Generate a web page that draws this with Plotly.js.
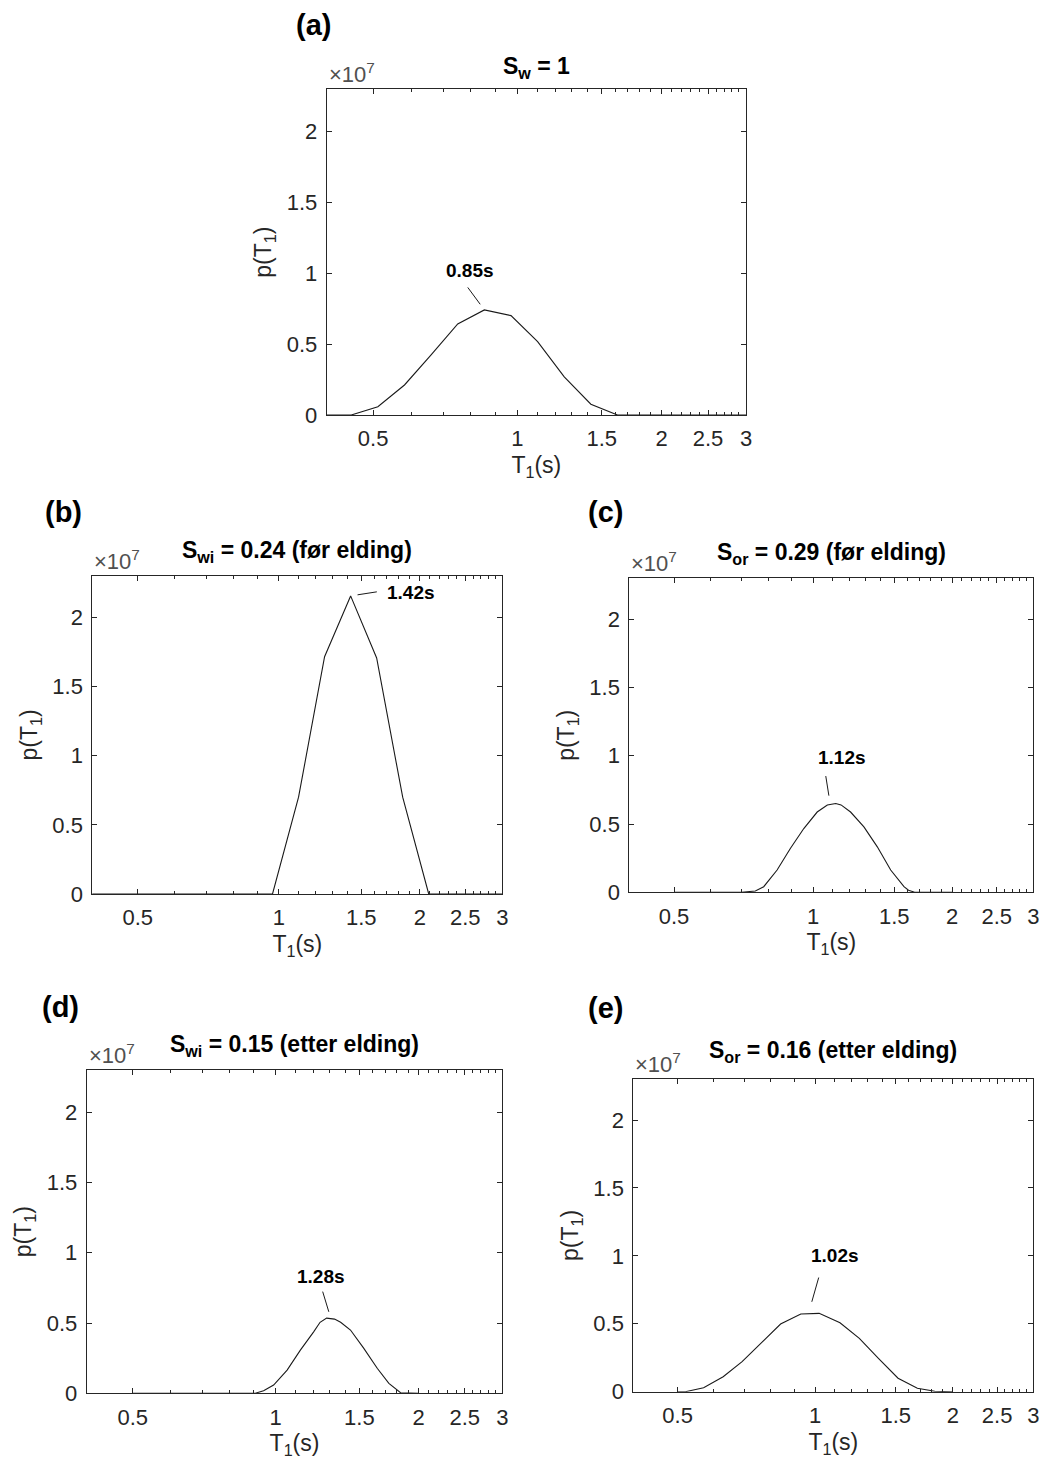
<!DOCTYPE html>
<html>
<head>
<meta charset="utf-8">
<script src="https://cdn.plot.ly/plotly-3.0.1.min.js"></script>
<style>html,body{margin:0;padding:0;background:#fff}#chart{width:1042px;height:1464px}</style>
</head>
<body>
<div id="chart"></div>
<script>
// ---- data ----
const T1_ab = [0.396, 0.4501, 0.5115, 0.5813, 0.6606, 0.7508, 0.8533, 0.9698, 1.1022, 1.2526, 1.4236, 1.6179, 1.8388, 2.0897, 2.3750, 2.6992, 3.0676];
const p_a = [0, 0, 0.059e7, 0.212e7, 0.424e7, 0.643e7, 0.742e7, 0.702e7, 0.518e7, 0.270e7, 0.076e7, 0, 0, 0, 0, 0, 0];
const p_b = [0, 0, 0, 0, 0, 0, 0, 0, 0.70e7, 1.716e7, 2.156e7, 1.707e7, 0.70e7, 0, 0, 0, 0];

const T1_c = [0.5, 0.70, 0.75, 0.782, 0.836, 0.893, 0.955, 1.021, 1.074, 1.12, 1.15, 1.206, 1.289, 1.378, 1.473, 1.574, 1.61, 1.66, 2.0];
const p_c  = [0, 0, 0.010e7, 0.041e7, 0.163e7, 0.321e7, 0.467e7, 0.588e7, 0.640e7, 0.650e7, 0.640e7, 0.588e7, 0.479e7, 0.333e7, 0.163e7, 0.041e7, 0.015e7, 0, 0];

const T1_d = [0.5, 0.906, 0.943, 0.990, 1.057, 1.127, 1.202, 1.24, 1.28, 1.33, 1.37, 1.437, 1.533, 1.636, 1.731, 1.80, 1.832, 2.0];
const p_d  = [0, 0, 0.018e7, 0.059e7, 0.165e7, 0.307e7, 0.437e7, 0.505e7, 0.535e7, 0.528e7, 0.505e7, 0.450e7, 0.320e7, 0.178e7, 0.071e7, 0.020e7, 0.004e7, 0];

const T1_e = [0.5, 0.520, 0.570, 0.629, 0.692, 0.766, 0.840, 0.930, 1.02, 1.133, 1.249, 1.375, 1.518, 1.673, 1.826, 2.0];
const p_e  = [0, 0, 0.029e7, 0.110e7, 0.221e7, 0.368e7, 0.498e7, 0.572e7, 0.577e7, 0.508e7, 0.393e7, 0.246e7, 0.099e7, 0.025e7, 0.003e7, 0];

const xTickVals = [0.5, 1, 1.5, 2, 2.5, 3];
const xTickText = ['0.5', '1', '1.5', '2', '2.5', '3'];
const xMinorVals = [0.4,0.5,0.6,0.7,0.8,0.9,1.0,1.1,1.2,1.3,1.4,1.5,1.6,1.7,1.8,1.9,2.0,2.1,2.2,2.3,2.4,2.5,2.6,2.7,2.8,2.9,3.0];
const yTickVals = [0, 0.5e7, 1e7, 1.5e7, 2e7];
const yTickText = ['0', '0.5', '1', '1.5', '2'];

const panelLabels = ['(a)', '(b)', '(c)', '(d)', '(e)'];
const panelTitles = ['S<sub>w</sub> = 1', 'S<sub>wi</sub> = 0.24 (før elding)', 'S<sub>or</sub> = 0.29 (før elding)',
                     'S<sub>wi</sub> = 0.15 (etter elding)', 'S<sub>or</sub> = 0.16 (etter elding)'];
const xTitle = 'T<sub>1</sub>(s)';
const yTitle = 'p(T<sub>1</sub>)';

// ---- layout / style ----
const W = 1042, H = 1464;
const FONT = '"Liberation Sans", Arial, Helvetica, sans-serif';
const AX = '#262626';
const panels = [
  {x: T1_ab, y: p_a, dom: {x:[326.7, 746.0], y:[89.3, 415.0]},
   lab: [313, 25], tit: 67, arrow: {ax:-17.7, ay:-24, so:7, xs:0}, txt: [-14.3, -39.3]},
  {x: T1_ab, y: p_b, dom: {x:[92.3, 502.3], y:[576.0, 894.0]},
   lab: [63, 512], tit: 551, arrow: {ax:27.7, ay:-4.3, so:7, xs:0}, txt: [60.3, -3.3]},
  {x: T1_c, y: p_c, dom: {x:[629.3, 1033.3], y:[578.3, 892.3]},
   lab: [605, 512], tit: 553, arrow: {ax:-4.6, ay:-29, so:8, xs:-5.6}, txt: [5.8, -45.7]},
  {x: T1_d, y: p_d, dom: {x:[86.7, 502.3], y:[1070.0, 1393.3]},
   lab: [60, 1007], tit: 1045, arrow: {ax:-8.5, ay:-28, so:6.6, xs:4.1}, txt: [-6.1, -42]},
  {x: T1_e, y: p_e, dom: {x:[633.3, 1033.3], y:[1079.3, 1391.7]},
   lab: [605, 1008], tit: 1051, arrow: {ax:10.6, ay:-37.3, so:12, xs:-10.6}, txt: [15.7, -58.3]}
];

const traces = [];
const layout = {
  width: W, height: H, margin: {l:0, r:0, t:0, b:0},
  paper_bgcolor: '#ffffff', plot_bgcolor: '#ffffff',
  showlegend: false, font: {family: FONT, color: AX},
  annotations: []
};

panels.forEach((p, i) => {
  const n = i === 0 ? '' : String(i + 1);
  const xa = 'xaxis' + n, ya = 'yaxis' + n;
  const xr = 'x' + n, yr = 'y' + n;
  traces.push({x: p.x, y: p.y, xaxis: xr, yaxis: yr, type: 'scatter', mode: 'lines',
               line: {color: '#1a1a1a', width: 1.1}, hoverinfo: 'skip'});
  layout[xa] = {
    type: 'log', range: [Math.log10(0.4), Math.log10(3)],
    domain: [p.dom.x[0] / W, p.dom.x[1] / W], anchor: yr,
    tickvals: xTickVals, ticktext: xTickText, ticks: 'inside', ticklen: 5, tickwidth: 1, tickcolor: AX,
    minor: {tickvals: xMinorVals, ticks: 'inside', ticklen: 3, tickcolor: AX, showgrid: false},
    showline: true, linecolor: AX, linewidth: 1, mirror: 'allticks', showgrid: false, zeroline: false,
    tickfont: {size: 22, color: AX, family: FONT}, ticklabelstandoff: 4,
    title: {text: xTitle, font: {size: 23, color: AX, family: FONT}, standoff: 6},
    automargin: false, fixedrange: true
  };
  layout[ya] = {
    range: [0, 2.3e7], domain: [1 - p.dom.y[1] / H, 1 - p.dom.y[0] / H], anchor: xr,
    tickvals: yTickVals, ticktext: yTickText, ticks: 'inside', ticklen: 5, tickwidth: 1, tickcolor: AX,
    showline: true, linecolor: AX, linewidth: 1, mirror: 'allticks', showgrid: false, zeroline: false,
    tickfont: {size: 22, color: AX, family: FONT}, ticklabelstandoff: 4,
    title: {text: yTitle, font: {size: 23, color: AX, family: FONT}, standoff: 8},
    automargin: false, fixedrange: true
  };

  const left = p.dom.x[0] / W, right = p.dom.x[1] / W, top = 1 - p.dom.y[0] / H;
  // panel letter
  layout.annotations.push({xref: 'paper', yref: 'paper', x: p.lab[0] / W, y: 1 - p.lab[1] / H,
    xanchor: 'center', yanchor: 'middle', showarrow: false, text: '<b>' + panelLabels[i] + '</b>',
    font: {size: 29, color: '#000', family: FONT}});
  // subplot title
  layout.annotations.push({xref: 'paper', yref: 'paper', x: (left + right) / 2, y: 1 - p.tit / H,
    xanchor: 'center', yanchor: 'middle', showarrow: false, text: '<b>' + panelTitles[i] + '</b>',
    font: {size: 23, color: '#000', family: FONT}});
  // exponent
  layout.annotations.push({xref: 'paper', yref: 'paper', x: left, y: top, xshift: 0, yshift: 0,
    xanchor: 'left', yanchor: 'bottom', showarrow: false, text: '×10<sup>7</sup>',
    font: {size: 22, color: '#505050', family: FONT}});
  // peak marker from data
  let k = 0;
  p.y.forEach((v, j) => { if (v > p.y[k]) k = j; });
  const px = Math.log10(p.x[k]), py = p.y[k];
  layout.annotations.push({xref: xr, yref: yr, x: px, y: py, text: '', showarrow: true,
    arrowhead: 0, arrowwidth: 1, arrowcolor: '#1a1a1a', ax: p.arrow.ax, ay: p.arrow.ay,
    standoff: p.arrow.so, xshift: p.arrow.xs});
  layout.annotations.push({xref: xr, yref: yr, x: px, y: py, showarrow: false,
    xshift: p.txt[0], yshift: -p.txt[1], xanchor: 'center', yanchor: 'middle',
    text: '<b>' + p.x[k].toFixed(2) + 's</b>', font: {size: 19, color: '#000', family: FONT}});
});

Plotly.newPlot('chart', traces, layout, {staticPlot: true, displayModeBar: false});
</script>
</body>
</html>
